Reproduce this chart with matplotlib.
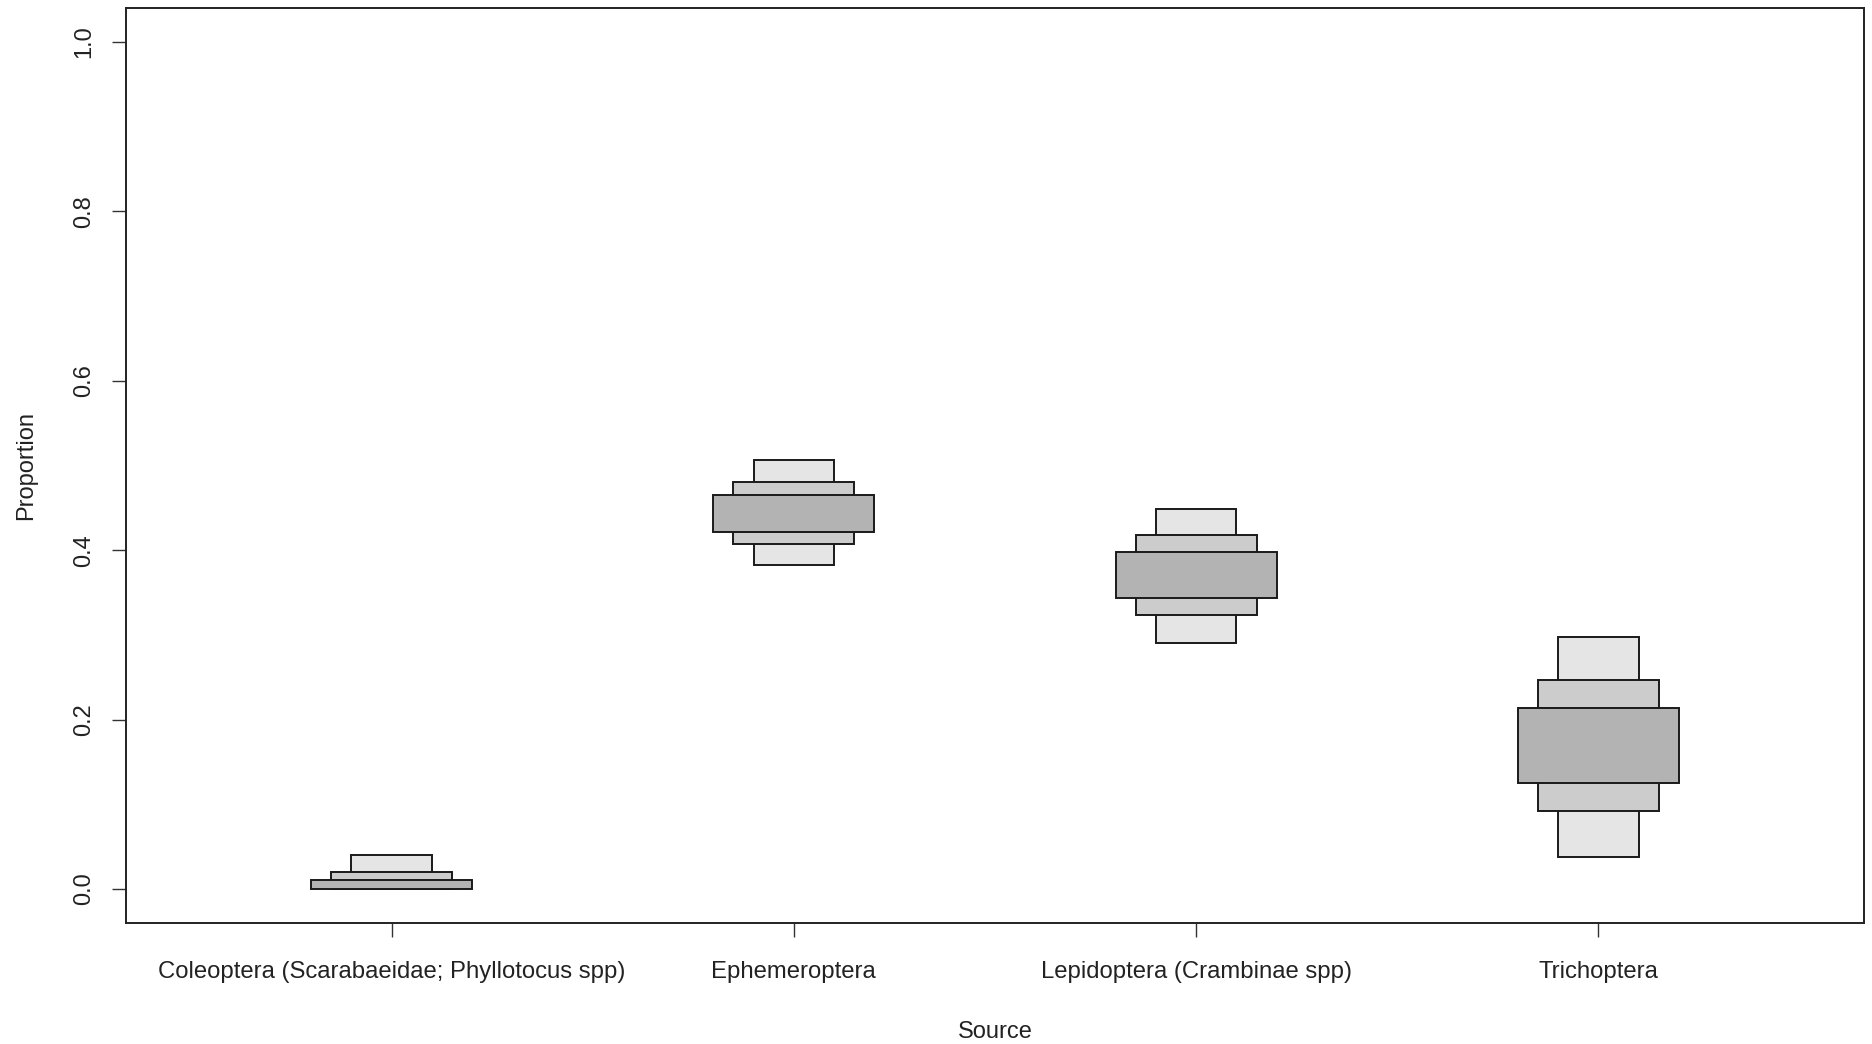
import numpy as np
import matplotlib
matplotlib.use("Agg")
import matplotlib.pyplot as plt

plt.rcParams['font.family'] = ['Liberation Sans', 'DejaVu Sans']

# credible intervals of source proportions (95%, 75%, 50%)
sources = ["Coleoptera (Scarabaeidae; Phyllotocus spp)", "Ephemeroptera",
           "Lepidoptera (Crambinae spp)", "Trichoptera"]
low95 = [0.000, 0.382, 0.290, 0.038]
high95 = [0.040, 0.507, 0.449, 0.298]
low75 = [0.000, 0.407, 0.324, 0.092]
high75 = [0.020, 0.480, 0.418, 0.247]
low50 = [0.000, 0.421, 0.344, 0.125]
high50 = [0.011, 0.465, 0.398, 0.214]

W, H = 1872, 1044
fig = plt.figure(figsize=(W / 100, H / 100), dpi=100)
ax = fig.add_axes([126 / W, 1 - 923 / H, (1864 - 126) / W, (923 - 8) / H])

x = np.arange(1, len(sources) + 1)
levels = [(low95, high95, 0.2, "#e5e5e5"),
          (low75, high75, 0.3, "#cccccc"),
          (low50, high50, 0.4, "#b3b3b3")]
for lo, hi, w, col in levels:
    lo = np.array(lo)
    hi = np.array(hi)
    ax.bar(x, hi - lo, width=w, bottom=lo, color=col,
           edgecolor="#1a1a1a", linewidth=1.4, zorder=2)

ax.set_xlim(0.34, 4.66)
ax.set_ylim(-0.04, 1.04)
ax.set_xticks(x)
ax.set_xticklabels(sources, fontsize=17.2, color="#222222")
yt = [0.0, 0.2, 0.4, 0.6, 0.8, 1.0]
ax.set_yticks(yt)
ax.set_yticklabels([f"{v:.1f}" for v in yt], fontsize=17, color="#222222",
                   rotation=90, va="center")
ax.tick_params(axis="both", length=10, width=1.0, color="#333333")
ax.tick_params(axis="x", pad=17.5)
ax.tick_params(axis="y", pad=12)
for s in ax.spines.values():
    s.set_linewidth(1.4)
    s.set_color("#222222")

ax.set_xlabel("Source", fontsize=17, color="#222222", labelpad=27)
ax.set_ylabel("Proportion", fontsize=17, color="#222222", labelpad=26)

fig.savefig("out.png", dpi=100, facecolor="white")
